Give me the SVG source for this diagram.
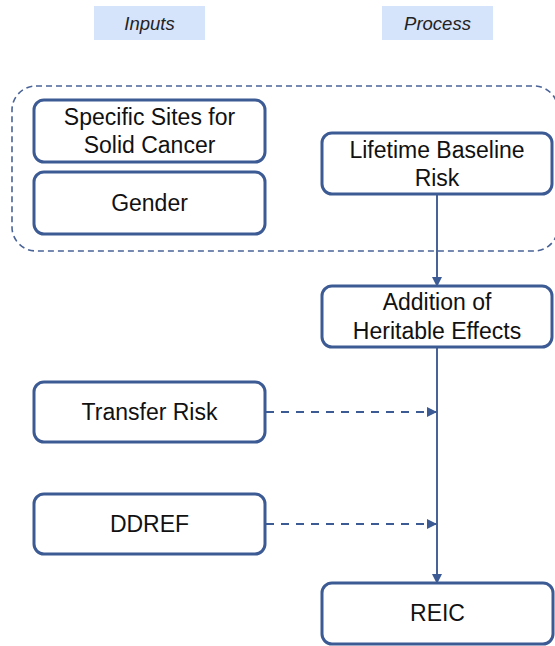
<svg xmlns="http://www.w3.org/2000/svg" width="555" height="646" viewBox="0 0 555 646">
  <defs>
    <style>
      .hdr { fill: #d6e4fb; }
      .hdr-t { font-family: "Liberation Sans", Arial, sans-serif; font-size: 18.5px; font-style: italic; fill: #222; text-anchor: middle; }
      .node { fill: #ffffff; stroke: #3c5a94; stroke-width: 3; }
      .lbl { font-family: "Liberation Sans", Arial, sans-serif; font-size: 23px; fill: #111; text-anchor: middle; }
      .group { fill: none; stroke: #4a6397; stroke-width: 1.6; stroke-dasharray: 6 4; }
      .flow { fill: none; stroke: #4a6397; stroke-width: 2; }
      .dash { fill: none; stroke: #3c5a94; stroke-width: 2; stroke-dasharray: 8 7; }
    </style>
    <marker id="arr" viewBox="0 0 10 10" refX="9" refY="5" markerWidth="10" markerHeight="10" markerUnits="userSpaceOnUse" orient="auto">
      <path d="M0,0 L10,5 L0,10 z" fill="#3c5a94"/>
    </marker>
  </defs>

  <!-- column headers -->
  <g id="hdr-inputs">
    <rect class="hdr" x="94" y="6" width="111" height="34"/>
    <text class="hdr-t" x="149.5" y="29.5">Inputs</text>
  </g>
  <g id="hdr-process">
    <rect class="hdr" x="382" y="6" width="111" height="34"/>
    <text class="hdr-t" x="437.5" y="29.5">Process</text>
  </g>

  <!-- dashed grouping frame -->
  <rect id="frame" class="group" x="12" y="86" width="546" height="165" rx="24"/>

  <!-- connectors -->
  <g id="connectors">
    <line class="flow" x1="437" y1="194" x2="437" y2="286" marker-end="url(#arr)"/>
    <line class="flow" x1="437" y1="347" x2="437" y2="583" marker-end="url(#arr)"/>
    <line class="dash" x1="266" y1="412" x2="436" y2="412" marker-end="url(#arr)"/>
    <line class="dash" x1="266" y1="524" x2="436" y2="524" marker-end="url(#arr)"/>
  </g>

  <!-- nodes -->
  <g id="sites">
    <rect class="node" x="34" y="100" width="231" height="62" rx="10"/>
    <text class="lbl" x="149.5" y="125">Specific Sites for</text>
    <text class="lbl" x="149.5" y="153">Solid Cancer</text>
  </g>
  <g id="gender">
    <rect class="node" x="34" y="172" width="231" height="62" rx="10"/>
    <text class="lbl" x="149.5" y="211">Gender</text>
  </g>
  <g id="baseline">
    <rect class="node" x="322" y="133" width="230" height="61" rx="10"/>
    <text class="lbl" x="437" y="158">Lifetime Baseline</text>
    <text class="lbl" x="437" y="186">Risk</text>
  </g>
  <g id="heritable">
    <rect class="node" x="322" y="286" width="230" height="61" rx="10"/>
    <text class="lbl" x="437" y="310">Addition of</text>
    <text class="lbl" x="437" y="339">Heritable Effects</text>
  </g>
  <g id="transfer">
    <rect class="node" x="34" y="382" width="231" height="60" rx="10"/>
    <text class="lbl" x="149.5" y="420">Transfer Risk</text>
  </g>
  <g id="ddref">
    <rect class="node" x="34" y="494" width="231" height="60" rx="10"/>
    <text class="lbl" x="149.5" y="532">DDREF</text>
  </g>
  <g id="reic">
    <rect class="node" x="322" y="583" width="231" height="61" rx="10"/>
    <text class="lbl" x="437.5" y="621">REIC</text>
  </g>
</svg>
